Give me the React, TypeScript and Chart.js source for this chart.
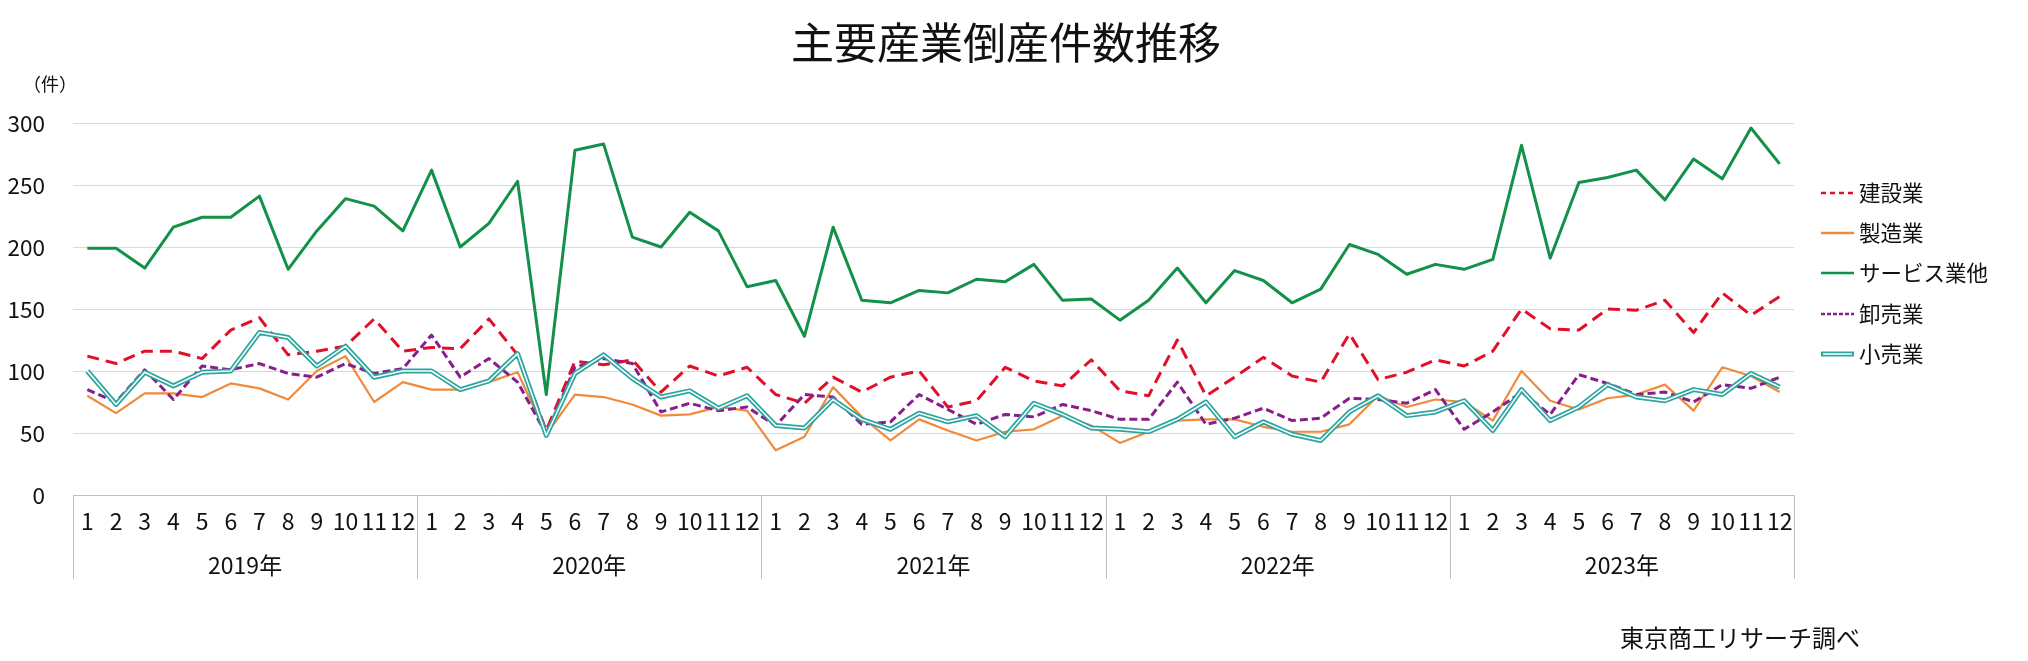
import React, { useEffect, useRef } from "react";
import { Chart, registerables } from "chart.js";

Chart.register(...registerables);

const years = ["2019年", "2020年", "2021年", "2022年", "2023年"];
const months = ["1", "2", "3", "4", "5", "6", "7", "8", "9", "10", "11", "12"];
const categories = years.flatMap(() => months);

const seriesNames = ["建設業", "製造業", "サービス業他", "卸売業", "小売業"];

const construction = [
  112, 106, 116, 116, 110, 133, 143, 113, 116, 120, 142, 116,
  119, 118, 142, 113, 52, 108, 105, 109, 83, 104, 96, 103,
  81, 74, 95, 83, 95, 100, 71, 76, 103, 92, 88, 109,
  84, 80, 125, 80, 95, 111, 96, 91, 130, 93, 99, 109,
  104, 116, 150, 134, 133, 150, 149, 157, 131, 163, 145, 160,
];
const manufacturing = [
  80, 66, 82, 82, 79, 90, 86, 77, 100, 112, 75, 91,
  85, 85, 91, 99, 49, 81, 79, 73, 64, 65, 71, 68,
  36, 47, 87, 63, 44, 61, 52, 44, 51, 53, 64, 56,
  42, 51, 60, 61, 61, 55, 51, 51, 57, 80, 71, 77,
  75, 60, 100, 76, 69, 78, 81, 89, 68, 103, 96, 83,
];
const services = [
  199, 199, 183, 216, 224, 224, 241, 182, 213, 239, 233, 213,
  262, 200, 219, 253, 81, 278, 283, 208, 200, 228, 213, 168,
  173, 128, 216, 157, 155, 165, 163, 174, 172, 186, 157, 158,
  141, 157, 183, 155, 181, 173, 155, 166, 202, 194, 178, 186,
  182, 190, 282, 191, 252, 256, 262, 238, 271, 255, 296, 267,
];
const wholesale = [
  85, 75, 101, 77, 104, 101, 106, 98, 95, 106, 98, 102,
  129, 95, 110, 91, 49, 103, 110, 106, 67, 74, 68, 71,
  56, 81, 79, 57, 59, 81, 69, 57, 65, 63, 73, 68,
  61, 61, 91, 57, 62, 70, 60, 62, 78, 77, 74, 85,
  53, 67, 83, 65, 97, 90, 81, 83, 75, 89, 86, 95,
];
const retail = [
  100, 73, 99, 88, 99, 100, 131, 127, 104, 120, 95, 100,
  100, 85, 92, 114, 48, 98, 113, 94, 79, 84, 70, 80,
  56, 54, 77, 61, 53, 66, 59, 64, 47, 74, 65, 54,
  53, 51, 61, 75, 47, 59, 49, 44, 67, 80, 64, 67,
  76, 52, 85, 60, 71, 89, 79, 76, 85, 81, 98, 87,
];

const yTicks = [0, 50, 100, 150, 200, 250, 300];

const FONT = '"Noto Sans CJK JP", "Noto Sans", sans-serif';
const RED = "#E0102A";
const ORANGE = "#F08A3C";
const GREEN = "#13914A";
const PURPLE = "#8A1D8C";
const TEAL = "#2EA6A0";

const decorPlugin = {
  id: "decor",
  afterDraw(chart: any) {
    const ctx = chart.ctx;
    const area = chart.chartArea;
    const xs = chart.scales.x;
    ctx.save();
    // title
    ctx.fillStyle = "#111";
    ctx.textAlign = "center";
    ctx.textBaseline = "middle";
    ctx.font = `43px ${FONT}`;
    ctx.fillText("主要産業倒産件数推移", 1006, 43);
    // unit
    ctx.font = `18px ${FONT}`;
    ctx.fillText("（件）", 50, 84);
    // footer
    ctx.font = `24px ${FONT}`;
    ctx.textAlign = "left";
    ctx.fillText("東京商工リサーチ調べ", 1620, 638);

    // year separators and labels
    const half = (xs.getPixelForValue(1) - xs.getPixelForValue(0)) / 2;
    ctx.strokeStyle = "#BFBFBF";
    ctx.lineWidth = 1;
    for (let k = 0; k <= years.length; k++) {
      let x: number;
      if (k === 0) x = area.left;
      else if (k === years.length) x = area.right;
      else x = xs.getPixelForValue(k * 12) - half;
      x = Math.round(x) + 0.5;
      ctx.beginPath();
      ctx.moveTo(x, area.bottom);
      ctx.lineTo(x, 579);
      ctx.stroke();
    }
    ctx.fillStyle = "#111";
    ctx.textAlign = "center";
    ctx.font = `23px ${FONT}`;
    years.forEach((y, k) => {
      const x = (xs.getPixelForValue(k * 12) + xs.getPixelForValue(k * 12 + 11)) / 2;
      ctx.fillText(y, x, 565);
    });

    // legend
    const rows = [193, 233, 273, 314, 354];
    const ds = chart.data.datasets.filter((d: any) => !d.isInner);
    ds.forEach((d: any, i: number) => {
      const y = rows[i];
      ctx.save();
      ctx.lineCap = "butt";
      if (d.isDouble) {
        ctx.strokeStyle = d.borderColor;
        ctx.lineWidth = 5;
        ctx.beginPath();
        ctx.moveTo(1821, y);
        ctx.lineTo(1854, y);
        ctx.stroke();
        ctx.strokeStyle = "#fff";
        ctx.lineWidth = 1.5;
        ctx.beginPath();
        ctx.moveTo(1823, y);
        ctx.lineTo(1852, y);
        ctx.stroke();
      } else {
        ctx.strokeStyle = d.borderColor;
        ctx.lineWidth = 2.5;
        ctx.setLineDash(d.legendDash || []);
        ctx.beginPath();
        ctx.moveTo(1821, y);
        ctx.lineTo(1854, y);
        ctx.stroke();
      }
      ctx.restore();
      ctx.fillStyle = "#111";
      ctx.textAlign = "left";
      ctx.textBaseline = "middle";
      ctx.font = `21.5px ${FONT}`;
      ctx.fillText(d.label, 1859, y);
    });
    ctx.restore();
  },
};

export default function App() {
  const ref = useRef<HTMLCanvasElement | null>(null);
  useEffect(() => {
    if (!ref.current) return;
    const common = {
      pointRadius: 0,
      pointHoverRadius: 0,
      tension: 0,
      fill: false,
      borderJoinStyle: "round" as const,
    };
    const chart = new Chart(ref.current, {
      type: "line",
      data: {
        labels: categories,
        datasets: [
          { ...common, label: seriesNames[0], data: construction, borderColor: RED, borderWidth: 3, borderDash: [12, 7], legendDash: [5, 4], order: 5 } as any,
          { ...common, label: seriesNames[1], data: manufacturing, borderColor: ORANGE, borderWidth: 2.2, order: 4 },
          { ...common, label: seriesNames[2], data: services, borderColor: GREEN, borderWidth: 3, order: 3 },
          { ...common, label: seriesNames[3], data: wholesale, borderColor: PURPLE, borderWidth: 3, borderDash: [8, 4], legendDash: [4, 2], order: 2 } as any,
          { ...common, label: seriesNames[4], data: retail, borderColor: TEAL, borderWidth: 5, isDouble: true, order: 1 } as any,
          { ...common, label: seriesNames[4] + "_inner", data: retail, borderColor: "#FFFFFF", borderWidth: 1.5, isInner: true, order: 0 } as any,
        ],
      },
      options: {
        responsive: false,
        animation: false,
        devicePixelRatio: 1,
        events: [],
        layout: { padding: { left: 0, right: 234, top: 123, bottom: 0 } },
        plugins: {
          legend: { display: false },
          title: { display: false },
          tooltip: { enabled: false },
        },
        scales: {
          x: {
            type: "category",
            offset: true,
            grid: { display: false },
            border: { display: true, color: "#BFBFBF", width: 1 },
            ticks: {
              autoSkip: false,
              maxRotation: 0,
              minRotation: 0,
              padding: 4,
              color: "#111",
              font: { family: FONT, size: 23 },
            },
            afterFit: (s: any) => {
              s.height = 166;
            },
          },
          y: {
            min: 0,
            max: 300,
            afterBuildTicks: (s: any) => {
              s.ticks = yTicks.map((v) => ({ value: v }));
            },
            grid: { color: "#D9D9D9", lineWidth: 1, drawTicks: false },
            border: { display: false },
            ticks: {
              padding: 28,
              color: "#111",
              font: { family: FONT, size: 22.5 },
            },
            afterFit: (s: any) => {
              s.width = 73;
            },
          },
        },
      },
      plugins: [decorPlugin],
    });
    return () => chart.destroy();
  }, []);
  return (
    <div style={{ position: "absolute", left: 0, top: 0, width: 2028, height: 661, background: "#fff" }}>
      <canvas ref={ref} width={2028} height={661} style={{ width: 2028, height: 661, display: "block" }} />
    </div>
  );
}
